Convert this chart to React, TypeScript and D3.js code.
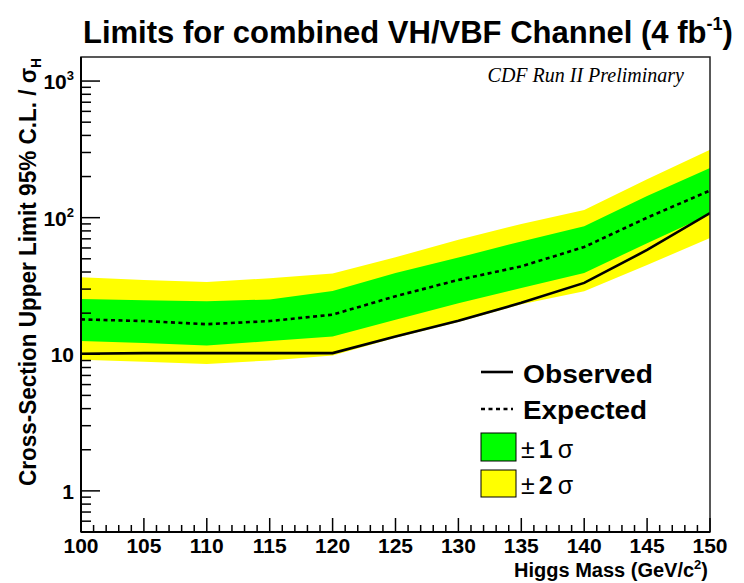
import React from "react";
import * as d3 from "d3";

const masses = [100, 105, 110, 115, 120, 125, 130, 135, 140, 145, 150];
const observed = [10.1, 10.2, 10.2, 10.2, 10.2, 13.5, 17.6, 23.8, 33.3, 58, 108];
const expected = [18, 17.5, 16.6, 17.5, 19.5, 26.6, 35, 44, 61, 100, 158];
const minus1 = [12.5, 12.1, 11.6, 12.5, 13.5, 17.9, 23.6, 30.5, 39.4, 65, 106];
const plus1 = [25.4, 24.9, 24.4, 25.2, 29, 39.4, 51, 67, 86.7, 144, 231];
const minus2 = [9.1, 8.8, 8.5, 9.0, 9.8, 13.2, 17.2, 23.2, 28.9, 45, 71];
const plus2 = [36.7, 35, 33.8, 36, 39, 51.3, 69, 90, 114, 191, 314];

const xMajorTicks = [100, 105, 110, 115, 120, 125, 130, 135, 140, 145, 150];
const yMajorTicks = [1, 10, 100, 1000];
const yTickBase = ["1", "10", "10", "10"];
const yTickSup = ["", "", "2", "3"];

const W = 744, H = 583;
const L = 81, R = 710, T = 57, B = 532;

export default function App() {
  const x = d3.scaleLinear().domain([100, 150]).range([L, R]);
  const y = d3.scaleLog().domain([0.5, 1500]).range([B, T]);

  const band = (lo: number[], hi: number[]) =>
    d3.area<number>()
      .x((_, i) => x(masses[i]))
      .y0((_, i) => y(lo[i]))
      .y1((_, i) => y(hi[i]))(masses) || "";
  const line = (vals: number[]) =>
    d3.line<number>().x((_, i) => x(masses[i])).y((_, i) => y(vals[i]))(masses) || "";

  const xMinor = d3.range(100, 151, 1).filter((v) => v % 5 !== 0);
  const yMinor: number[] = [];
  for (const dec of [0.1, 1, 10, 100]) {
    for (let k = 2; k <= 9; k++) {
      const v = dec * k;
      if (v >= 0.5 && v <= 1500) yMinor.push(v);
    }
  }

  const font = "'Liberation Sans', Arial, Helvetica, sans-serif";

  return (
    <svg width={W} height={H} style={{ position: "absolute", left: 0, top: 0, background: "#fff" }} fontFamily={font}>
      <defs>
        <clipPath id="plotclip">
          <rect x={L} y={T} width={R - L} height={B - T} />
        </clipPath>
      </defs>
      <rect x={0} y={0} width={W} height={H} fill="#fff" />
      {/* title */}
      <text x={83} y={43} fontSize={31} fontWeight="bold" fill="#000">
        Limits for combined VH/VBF Channel (4 fb
        <tspan fontSize={18} dy={-13}>-1</tspan>
        <tspan dy={13}>)</tspan>
      </text>

      <g clipPath="url(#plotclip)">
        <path d={band(minus2, plus2)} fill="#ffff00" />
        <path d={band(minus1, plus1)} fill="#00ff00" />
        <path d={line(expected)} fill="none" stroke="#000" strokeWidth={2.6} strokeDasharray="4,3.5" />
        <path d={line(observed)} fill="none" stroke="#000" strokeWidth={2.6} />
      </g>

      {/* frame */}
      <rect x={L} y={T} width={R - L} height={B - T} fill="none" stroke="#222" strokeWidth={1.5} />
      <line x1={L} x2={L} y1={T} y2={B} stroke="#000" strokeWidth={2} />
      <line x1={L} x2={R} y1={B} y2={B} stroke="#000" strokeWidth={2} />

      {/* x ticks */}
      {xMajorTicks.map((v) => (
        <line key={"xM" + v} x1={x(v)} x2={x(v)} y1={B} y2={B - 14} stroke="#000" strokeWidth={1.5} />
      ))}
      {xMinor.map((v) => (
        <line key={"xm" + v} x1={x(v)} x2={x(v)} y1={B} y2={B - 7} stroke="#000" strokeWidth={1.5} />
      ))}
      {xMajorTicks.map((v) => (
        <text key={"xl" + v} x={x(v)} y={553} fontSize={21} fontWeight="bold" textAnchor="middle">
          {v}
        </text>
      ))}
      <text x={708} y={577} fontSize={20} fontWeight="bold" textAnchor="end">
        Higgs Mass (GeV/c<tspan fontSize={13} dy={-8}>2</tspan>
        <tspan dy={8}>)</tspan>
      </text>

      {/* y ticks */}
      {yMajorTicks.map((v) => (
        <line key={"yM" + v} x1={L} x2={L + 19} y1={y(v)} y2={y(v)} stroke="#000" strokeWidth={1.5} />
      ))}
      {yMinor.map((v) => (
        <line key={"ym" + v} x1={L} x2={L + 10} y1={y(v)} y2={y(v)} stroke="#000" strokeWidth={1.5} />
      ))}
      {yMajorTicks.map((v, i) => (
        <text key={"yl" + v} x={74} y={y(v) + 8} fontSize={21} fontWeight="bold" textAnchor="end">
          {yTickBase[i]}
          {yTickSup[i] && (
            <tspan fontSize={13} dy={-9}>{yTickSup[i]}</tspan>
          )}
        </text>
      ))}
      <text
        transform="translate(36,58) rotate(-90)"
        x={0}
        y={0}
        fontSize={23}
        fontWeight="bold"
        textAnchor="end"
        textLength={428}
        lengthAdjust="spacingAndGlyphs"
      >
        Cross-Section Upper Limit 95% C.L. / σ<tspan fontSize={14} dy={5}>H</tspan>
      </text>

      {/* CDF label */}
      <text x={684} y={82} fontSize={20} fontStyle="italic" textAnchor="end" fontFamily="'Liberation Serif', 'Times New Roman', serif">
        CDF Run II Preliminary
      </text>

      {/* legend */}
      <line x1={481} x2={513} y1={372} y2={372} stroke="#000" strokeWidth={2.6} />
      <text x={523} y={383} fontSize={25} fontWeight="bold" textLength={130} lengthAdjust="spacingAndGlyphs">Observed</text>
      <line x1={481} x2={513} y1={409} y2={409} stroke="#000" strokeWidth={2.6} strokeDasharray="4,3.5" />
      <text x={523} y={419} fontSize={25} fontWeight="bold" textLength={124} lengthAdjust="spacingAndGlyphs">Expected</text>
      <rect x={481} y={433} width={35} height={28} fill="#00ff00" stroke="#000" strokeWidth={1} />
      <text x={521} y={458} fontSize={25}>
        <tspan fontWeight="normal">±</tspan>
        <tspan dx={4} fontWeight="bold">1</tspan>
        <tspan dx={5} fontWeight="normal">σ</tspan>
      </text>
      <rect x={481} y={470} width={35} height={27} fill="#ffff00" stroke="#000" strokeWidth={1} />
      <text x={521} y={494} fontSize={25}>
        <tspan fontWeight="normal">±</tspan>
        <tspan dx={4} fontWeight="bold">2</tspan>
        <tspan dx={5} fontWeight="normal">σ</tspan>
      </text>
    </svg>
  );
}
